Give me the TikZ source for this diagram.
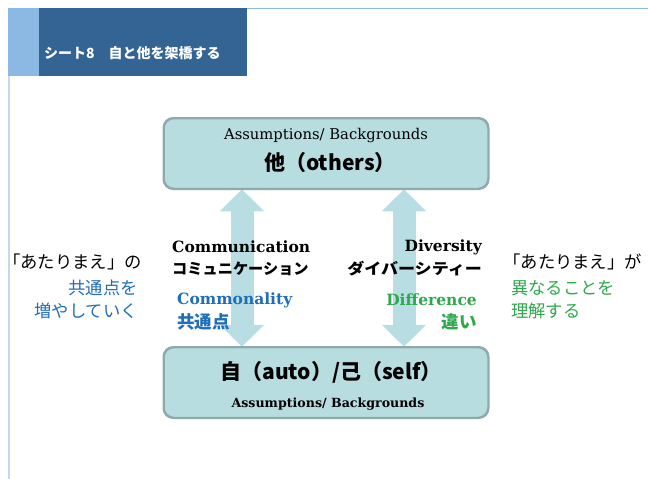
\documentclass[tikz,border=0pt]{standalone}
\usepackage{fontspec}
\newfontfamily\jp{Noto Sans CJK JP}
\newfontfamily\ser{DejaVu Serif}
\usetikzlibrary{arrows.meta}
\definecolor{hdark}{HTML}{336494}
\definecolor{hlight}{HTML}{8BB9E4}
\definecolor{sideline}{HTML}{C5D9EC}
\definecolor{boxfill}{HTML}{B7DDE1}
\definecolor{boxline}{HTML}{8FAAAD}
\definecolor{arrowfill}{HTML}{B8DDE3}
\definecolor{tblue}{HTML}{1F6EB8}
\definecolor{tgreen}{HTML}{2EA84C}
\begin{document}
\begin{tikzpicture}[x=1pt,y=-1pt,
  every node/.style={inner sep=0pt},
  box/.style={draw=boxline, line width=1.5pt, fill=boxfill, rounded corners=10pt,
    minimum width=324pt, minimum height=70pt},
  dblarrow/.style={draw=arrowfill, line width=23pt,
    {Triangle[width=43pt,length=22pt]}-{Triangle[width=43pt,length=22pt]}},
  sertxt/.style={font=\ser\fontsize{14.8}{17}\selectfont},
  serboldsm/.style={font=\ser\bfseries\fontsize{12.6}{15}\selectfont},
  serbold/.style={font=\ser\bfseries\fontsize{15.5}{18}\selectfont},
  jpname/.style={font=\jp\bfseries\fontsize{21}{25}\selectfont},
  jpmid/.style={font=\jp\bfseries\fontsize{15.2}{18}\selectfont},
  jpmidlg/.style={font=\jp\bfseries\fontsize{17.5}{20}\selectfont},
  jpside/.style={font=\jp\fontsize{17.3}{20}\selectfont},
  titletxt/.style={font=\jp\bfseries\fontsize{14}{17}\selectfont, text=white}]
\useasboundingbox (0,0) rectangle (648,479);
\fill[white] (0,0) rectangle (648,479);
% header
\fill[hlight] (8,8) rectangle (39,76);
\fill[hdark] (39,8) rectangle (247,76);
\draw[hlight, line width=1pt] (247,8.5) -- (648,8.5);
\draw[sideline, line width=1.5pt] (8.75,76) -- (8.75,479);
\node[titletxt, anchor=west] (title) at (44,53) {シート8　自と他を架橋する};
% boxes and arrows
\coordinate (la) at (242,0);
\coordinate (ra) at (404,0);
\node[box] (other) at (326,153.5) {};
\node[box] (self) at (326,382.5) {};
\draw[dblarrow] (other.south -| la) -- (self.north -| la);
\draw[dblarrow] (other.south -| ra) -- (self.north -| ra);
\draw[boxline, line width=1.5pt, rounded corners=10pt] (other.south west) rectangle (other.north east);
\draw[boxline, line width=1.5pt, rounded corners=10pt] (self.south west) rectangle (self.north east);
% box texts
\node[sertxt] (otherbg) at (326,136) {Assumptions/ Backgrounds};
\node[jpname] (othername) at (330,163) {他（others）};
\node[jpname] (selfname) at (331,372) {自（auto）/己（self）};
\node[serboldsm] (selfbg) at (328,404) {Assumptions/ Backgrounds};
% middle texts
\node[serbold, anchor=west] (comm) at (172,247) {Communication};
\node[jpmid, anchor=west] (commjp) at (172,269) {コミュニケーション};
\node[serbold, anchor=west, text=tblue] (commo) at (177,300) {Commonality};
\node[jpmidlg, anchor=west, text=tblue] (commojp) at (177,322) {共通点};
\node[serbold, anchor=east] (div) at (482,247) {Diversity};
\node[jpmid, anchor=east] (divjp) at (482,269) {\scalebox{1.12}[1]{ダイバーシティー}};
\node[serbold, anchor=east, text=tgreen] (diff) at (477,300) {Difference};
\node[jpmidlg, anchor=east, text=tgreen] (diffjp) at (477,322) {違い};
% side texts
\node[jpside, anchor=east] (l1) at (142,262) {「あたりまえ」の};
\node[jpside, anchor=east, text=tblue] (l2) at (138,288) {共通点を};
\node[jpside, anchor=east, text=tblue] (l3) at (138,311) {増やしていく};
\node[jpside, anchor=east] (r1) at (642,262) {「あたりまえ」が};
\node[jpside, anchor=west, text=tgreen] (r2) at (511,288) {異なることを};
\node[jpside, anchor=west, text=tgreen] (r3) at (511,311) {理解する};
\end{tikzpicture}
\end{document}
